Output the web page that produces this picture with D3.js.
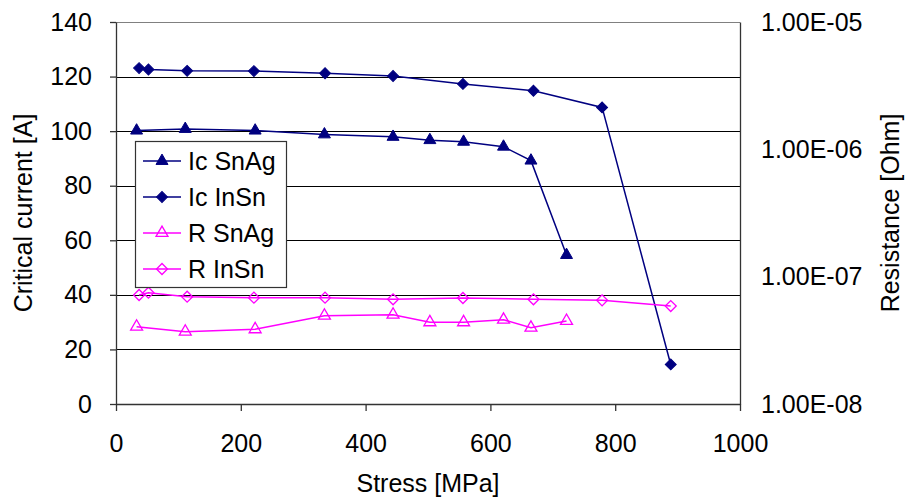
<!DOCTYPE html>
<html>
<head>
<meta charset="utf-8">
<script src="https://cdn.jsdelivr.net/npm/d3@7"></script>
<style>
  body { margin: 0; background: #fff; }
  svg text { font-family: "Liberation Sans", Arial, sans-serif; fill: #000; }
</style>
</head>
<body>
<div id="chart"></div>
<script>
// data
var stressSnAg = [33, 111, 223, 334, 444, 503, 557, 621, 665, 722];
var icSnAg = [100.2, 100.8, 100.2, 98.8, 97.9, 96.7, 96.1, 94.3, 89.2, 54.6];
var rSnAg = [4.05e-8, 3.70e-8, 3.86e-8, 4.94e-8, 5.03e-8, 4.38e-8, 4.38e-8, 4.59e-8, 3.97e-8, 4.49e-8];

var stressInSn = [37, 52, 114, 221, 335, 444, 556, 669, 779, 889];
var icInSn = [123.1, 122.6, 122.1, 122.0, 121.2, 120.2, 117.3, 114.8, 108.7, 14.5];
var rInSn = [7.18e-8, 7.48e-8, 6.96e-8, 6.84e-8, 6.84e-8, 6.64e-8, 6.80e-8, 6.64e-8, 6.52e-8, 5.88e-8];

var xTicks = [0, 200, 400, 600, 800, 1000];
var yTicks = [0, 20, 40, 60, 80, 100, 120, 140];
var rTicks = [1e-8, 1e-7, 1e-6, 1e-5];

var width = 905, height = 499;
var margin = {top: 22, right: 165, bottom: 95, left: 116};
var w = width - margin.left - margin.right;   // 624
var h = height - margin.top - margin.bottom;  // 382
var fontSize = 25;
var navy = "#000080", magenta = "#ff00ff";

var x = d3.scaleLinear().domain([0, 1000]).range([0, w]);
var y = d3.scaleLinear().domain([0, 140]).range([h, 0]);
var yR = d3.scaleLog().domain([1e-8, 1e-5]).range([h, 0]);

var svg = d3.select("#chart").append("svg")
	.attr("width", width)
	.attr("height", height);

var g = svg.append("g")
	.attr("transform", "translate(" + margin.left + "," + margin.top + ")");

// gridlines
g.append("g")
	.selectAll("line")
	.data(yTicks.filter(function(d) { return d > 0 && d < 140; }))
	.enter()
	.append("line")
		.attr("x1", 0).attr("x2", w)
		.attr("y1", function(d) { return Math.round(y(d)) + 0.5; })
		.attr("y2", function(d) { return Math.round(y(d)) + 0.5; })
		.attr("stroke", "#000")
		.attr("stroke-width", 1);

// top border
g.append("line")
	.attr("x1", 0).attr("x2", w)
	.attr("y1", 0.5).attr("y2", 0.5)
	.attr("stroke", "#808080");

function fmtE(d) {
	var e = Math.round(Math.log10(d));
	var s = e < 0 ? "-" : "+";
	var a = Math.abs(e);
	return "1.00E" + s + (a < 10 ? "0" + a : a);
}

// axes
var xAxis = g.append("g")
	.attr("transform", "translate(0," + h + ")")
	.call(d3.axisBottom(x).tickValues(xTicks).tickFormat(d3.format("d")).tickSize(7).tickPadding(23).tickSizeOuter(0));

var yAxis = g.append("g")
	.call(d3.axisLeft(y).tickValues(yTicks).tickSize(6).tickPadding(18).tickSizeOuter(0));

var rAxis = g.append("g")
	.attr("transform", "translate(" + w + ",0)")
	.call(d3.axisRight(yR).tickValues(rTicks).tickFormat(fmtE).tickSize(0).tickPadding(21).tickSizeOuter(0));

[xAxis, yAxis, rAxis].forEach(function(a) {
	a.selectAll("path, line").attr("stroke", "#333").attr("stroke-width", 1.3);
	a.selectAll("text")
		.style("font-size", fontSize + "px")
		.style("font-family", "'Liberation Sans', Arial, sans-serif")
		.attr("fill", "#000");
});

// axis titles
svg.append("text")
	.attr("transform", "translate(32," + (margin.top + h / 2) + ") rotate(-90)")
	.attr("text-anchor", "middle")
	.style("font-size", fontSize + "px")
	.text("Critical current [A]");

svg.append("text")
	.attr("x", margin.left + w / 2)
	.attr("y", 492)
	.attr("text-anchor", "middle")
	.style("font-size", fontSize + "px")
	.text("Stress [MPa]");

svg.append("text")
	.attr("transform", "translate(899," + (margin.top + h / 2) + ") rotate(-90)")
	.attr("text-anchor", "middle")
	.style("font-size", fontSize + "px")
	.text("Resistance [Ohm]");

// series
var series = [
	{name: "Ic SnAg", xs: stressSnAg, ys: icSnAg, scale: y, color: navy, shape: "tri", filled: true},
	{name: "Ic InSn", xs: stressInSn, ys: icInSn, scale: y, color: navy, shape: "dia", filled: true},
	{name: "R SnAg", xs: stressSnAg, ys: rSnAg, scale: yR, color: magenta, shape: "tri", filled: false},
	{name: "R InSn", xs: stressInSn, ys: rInSn, scale: yR, color: magenta, shape: "dia", filled: false}
];

var triPath = d3.symbol().type(d3.symbolTriangle).size(62)();
var diaPath = d3.symbol().type(d3.symbolSquare).size(60)();

function addMarker(sel, s) {
	sel.append("path")
		.attr("d", s.shape == "tri" ? triPath : diaPath)
		.attr("transform", function(d) {
			return "translate(" + d[0] + "," + d[1] + ")" + (s.shape == "dia" ? " rotate(45)" : "");
		})
		.attr("fill", s.filled ? s.color : "none")
		.attr("stroke", s.color)
		.attr("stroke-width", s.filled ? 1 : 1.3);
}

var line = d3.line();

series.forEach(function(s) {
	var pts = s.xs.map(function(v, i) { return [x(v), s.scale(s.ys[i])]; });
	var sg = g.append("g");
	sg.append("path")
		.attr("d", line(pts))
		.attr("fill", "none")
		.attr("stroke", s.color)
		.attr("stroke-width", 1.5);
	sg.selectAll(".m")
		.data(pts)
		.enter()
		.append("g")
		.call(addMarker, s);
});

// legend
var legend = svg.append("g").attr("transform", "translate(135,141)");
legend.append("rect")
	.attr("x", 0.5).attr("y", 0.5)
	.attr("width", 151).attr("height", 146)
	.attr("fill", "#fff")
	.attr("stroke", "#333")
	.attr("stroke-width", 1.2);

series.forEach(function(s, i) {
	var ly = 20 + i * 36;
	var item = legend.append("g");
	item.append("line")
		.attr("x1", 8).attr("x2", 46)
		.attr("y1", ly).attr("y2", ly)
		.attr("stroke", s.color)
		.attr("stroke-width", 1.5);
	item.selectAll(".m").data([[27, ly]]).enter().append("g").call(addMarker, s);
	item.append("text")
		.attr("x", 53)
		.attr("y", ly + 9)
		.style("font-size", fontSize + "px")
		.text(s.name);
});
</script>
</body>
</html>
